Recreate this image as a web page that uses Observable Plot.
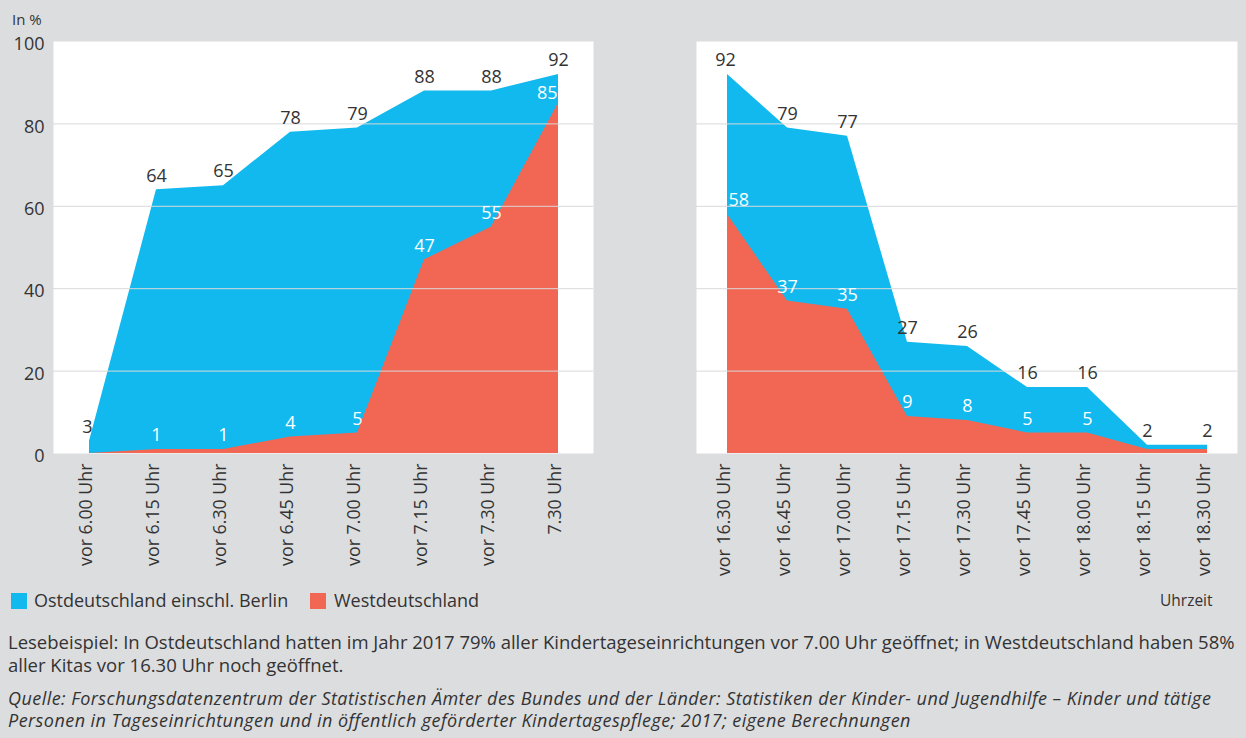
<!DOCTYPE html>
<html><head><meta charset="utf-8">
<script src="https://cdn.jsdelivr.net/npm/d3@7"></script>
<script src="https://cdn.jsdelivr.net/npm/@observablehq/plot@0.6"></script>
<style>
body{margin:0;background:#dcdddf;font-family:"Open Sans",sans-serif;color:#333;}
#wrap{position:relative;width:1246px;height:738px;overflow:hidden;background:#dcdddf;}
#left{position:absolute;left:0;top:0}
#right{position:absolute;left:640px;top:0}
.abs{position:absolute;white-space:nowrap;}
.sw{position:absolute;width:16px;height:16px;}
.note{font-size:18.5px;line-height:22px;}
.src{font-size:18px;line-height:22px;font-style:italic;letter-spacing:0.45px;}
</style></head>
<body><div id="wrap">
<div id="left"></div><div id="right"></div>
<div class="abs" style="left:12px;top:9px;font-size:15px;">In %</div>
<div class="sw" style="left:11px;top:593px;background:#12b9ee"></div>
<div class="abs" style="left:34px;top:588px;font-size:18px;line-height:24px;">Ostdeutschland einschl. Berlin</div>
<div class="sw" style="left:310px;top:593px;background:#f26654"></div>
<div class="abs" style="left:334px;top:588px;font-size:18px;line-height:24px;">Westdeutschland</div>
<div class="abs" style="left:1160px;top:589px;font-size:15.5px;line-height:22px;">Uhrzeit</div>
<div class="abs note" style="left:8px;top:631px;">Lesebeispiel: In Ostdeutschland hatten im Jahr 2017 79% aller Kindertageseinrichtungen vor 7.00 Uhr geöffnet; in Westdeutschland haben 58%</div>
<div class="abs note" style="left:8px;top:654px;">aller Kitas vor 16.30 Uhr noch geöffnet.</div>
<div class="abs src" style="left:8px;top:687px;">Quelle: Forschungsdatenzentrum der Statistischen Ämter des Bundes und der Länder: Statistiken der Kinder- und Jugendhilfe – Kinder und tätige</div>
<div class="abs src" style="left:8px;top:709px;">Personen in Tageseinrichtungen und in öffentlich geförderter Kindertagespflege; 2017; eigene Berechnungen</div>
</div>
<script>
const morningCats = ["vor 6.00 Uhr","vor 6.15 Uhr","vor 6.30 Uhr","vor 6.45 Uhr","vor 7.00 Uhr","vor 7.15 Uhr","vor 7.30 Uhr","7.30 Uhr"];
const morningEast = [3,64,65,78,79,88,88,92];
const morningWest = [0,1,1,4,5,47,55,85];
const morningEastLabels = ["3","64","65","78","79","88","88","92"];
const morningWestLabels = ["","1","1","4","5","47","55","85"];

const eveningCats = ["vor 16.30 Uhr","vor 16.45 Uhr","vor 17.00 Uhr","vor 17.15 Uhr","vor 17.30 Uhr","vor 17.45 Uhr","vor 18.00 Uhr","vor 18.15 Uhr","vor 18.30 Uhr"];
const eveningEast = [92,79,77,27,26,16,16,2,2];
const eveningWest = [58,37,35,9,8,5,5,1,1];
const eveningEastLabels = ["92","79","77","27","26","16","16","2","2"];
const eveningWestLabels = ["58","37","35","9","8","5","5","",""];

const yTicks = [0,20,40,60,80,100];
const colEast = "#12b9ee", colWest = "#f26654";

function panel({cats, east, west, eastLabels, westLabels, width, marginLeft, marginRight, showY}) {
  const n = cats.length;
  const dE = cats.map((c,i)=>({c, i, v:east[i], l:eastLabels[i]}));
  const dW = cats.map((c,i)=>({c, i, v:west[i], l:westLabels[i]}));
  return Plot.plot({
    width, height:580, marginTop:41, marginBottom:127, marginLeft, marginRight,
    style:{background:"transparent", fontFamily:"Open Sans, sans-serif", color:"#333", overflow:"visible"},
    x:{type:"point", domain:cats, padding:0.5, axis:null},
    y:{domain:[0,100], axis:null},
    marks:[
      Plot.frame({fill:"white", stroke:"none"}),
      Plot.areaY(dE,{x:"c", y:"v", fill:colEast}),
      Plot.areaY(dW,{x:"c", y:"v", fill:colWest}),
      Plot.gridY(yTicks.filter(t=>t>0 && t<100), {stroke:"#d9d9d9", strokeOpacity:1, strokeWidth:1}),
      Plot.text(dE.filter(d=>d.i>0),{x:"c", y:"v", text:"l", dy:-14, fill:"#333", fontSize:18}),
      Plot.text(dE.filter(d=>d.i===0),{x:"c", y:"v", text:"l", dy:-14, dx:-2, fill:"#333", fontSize:18}),
      Plot.text(dW.filter(d=>d.i>0 && d.i<n-1),{x:"c", y:"v", text:"l", dy:-14, fill:"white", fontSize:18}),
      Plot.text(dW.filter(d=>d.i===0),{x:"c", y:"v", text:"l", dy:-14, dx:1, textAnchor:"start", fill:"white", fontSize:18}),
      Plot.text(dW.filter(d=>d.i===n-1),{x:"c", y:"v", text:"l", dy:-10, dx:-1, textAnchor:"end", fill:"white", fontSize:18}),
      Plot.axisX({tickRotate:-90, tickSize:0, tickPadding:10, fontSize:17.8, label:null, dx:-3}),
      showY ? Plot.axisY({ticks:yTicks, tickSize:0, tickPadding:9, fontSize:18, label:null, dy:3}) : null
    ]
  });
}

document.getElementById("left").append(panel({cats:morningCats, east:morningEast, west:morningWest, eastLabels:morningEastLabels, westLabels:morningWestLabels, width:600, marginLeft:53, marginRight:7, showY:true}));
document.getElementById("right").append(panel({cats:eveningCats, east:eveningEast, west:eveningWest, eastLabels:eveningEastLabels, westLabels:eveningWestLabels, width:606, marginLeft:56, marginRight:9, showY:false}));
</script>
</body></html>
